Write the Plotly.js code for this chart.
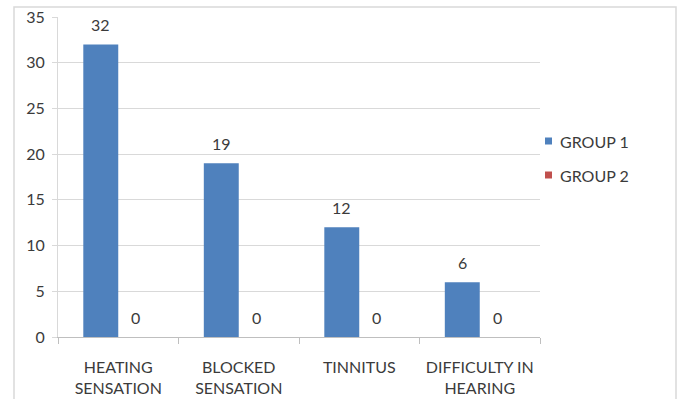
<!DOCTYPE html>
<html>
<head>
<meta charset="utf-8">
<script src="https://cdn.plot.ly/plotly-3.0.1.min.js"></script>
<style>
  html, body { margin: 0; padding: 0; background: #ffffff; }
  #chart { width: 680px; height: 399px; }
</style>
</head>
<body>
<div id="chart"></div>
<script>
// Symptom categories (two-line tick labels)
const categories = ["HEATING<br>SENSATION", "BLOCKED<br>SENSATION", "TINNITUS", "DIFFICULTY IN<br>HEARING"];
const seriesNames = ["GROUP 1", "GROUP 2"];
const group1 = [32, 19, 12, 6];
const group2 = [0, 0, 0, 0];
const seriesColors = ["#4F81BD", "#C0504D"];
const yTicks = [0, 5, 10, 15, 20, 25, 30, 35];

const W = 680, H = 399;
const M = { l: 58, r: 140, t: 17, b: 62 };
const plotW = W - M.l - M.r, plotH = H - M.t - M.b;
const px2x = px => (px - M.l) / plotW;
const px2y = py => (H - M.b - py) / plotH;

const textColor = "#3b3b3b";
const fontFamily = "Lato, 'Open Sans', sans-serif";
const BARGAP = 0.42;

const series = [group1, group2];
const traces = series.map((vals, i) => ({
  type: "bar",
  name: seriesNames[i],
  x: categories,
  y: vals,
  marker: { color: seriesColors[i] },
  showlegend: false,
  hoverinfo: "skip"
}));

const shapes = [];
const annotations = [];

// Value labels above each bar, offset to its slot within the group
const barPx = plotW / categories.length * (1 - BARGAP) / series.length;
series.forEach((vals, i) => {
  const offset = (i - (series.length - 1) / 2) * barPx;
  vals.forEach((v, j) => {
    annotations.push({
      x: categories[j], y: v, xref: "x", yref: "y",
      xshift: offset, yshift: 8,
      xanchor: "center", yanchor: "bottom", showarrow: false,
      text: String(v), font: { family: fontFamily, size: 16, color: textColor }
    });
  });
});

// Legend drawn as small squares with labels on the right of the plot
seriesNames.forEach((name, i) => {
  const cy = 141 + i * 34;
  shapes.push({
    type: "rect", xref: "paper", yref: "paper",
    x0: px2x(545), x1: px2x(552), y0: px2y(cy + 3.5), y1: px2y(cy - 3.5),
    fillcolor: seriesColors[i], line: { width: 0 }
  });
  annotations.push({
    xref: "paper", yref: "paper", x: px2x(558), y: px2y(cy),
    xanchor: "left", yanchor: "middle", showarrow: false,
    text: name, font: { family: fontFamily, size: 16, color: textColor }
  });
});

// Outer chart frame
shapes.push({
  type: "rect", xref: "paper", yref: "paper",
  x0: px2x(14), x1: px2x(676), y0: px2y(420), y1: px2y(7),
  line: { color: "#d9d9d9", width: 1.5 }, fillcolor: "rgba(0,0,0,0)", layer: "below"
});

const layout = {
  width: W, height: H,
  margin: M,
  paper_bgcolor: "#ffffff",
  plot_bgcolor: "#ffffff",
  barmode: "group",
  bargap: BARGAP,
  bargroupgap: 0,
  font: { family: fontFamily, size: 16, color: textColor },
  xaxis: {
    type: "category",
    tickson: "boundaries",
    ticks: "outside", ticklen: 6, tickcolor: "#bfbfbf",
    showline: true, linecolor: "#bfbfbf", linewidth: 1,
    showgrid: false,
    ticklabelstandoff: 16,
    tickfont: { family: fontFamily, size: 16, color: textColor }
  },
  yaxis: {
    range: [0, 35],
    tickvals: yTicks,
    ticktext: yTicks.map(String),
    ticks: "outside", ticklen: 5, tickcolor: "#d9d9d9",
    showline: true, linecolor: "#d9d9d9", linewidth: 1,
    showgrid: true, gridcolor: "#d9d9d9", gridwidth: 1,
    zeroline: false,
    ticklabelstandoff: 4,
    tickfont: { family: fontFamily, size: 16, color: textColor }
  },
  shapes: shapes,
  annotations: annotations,
  showlegend: false
};

Plotly.newPlot("chart", traces, layout, { displayModeBar: false, staticPlot: true });
</script>
</body>
</html>
